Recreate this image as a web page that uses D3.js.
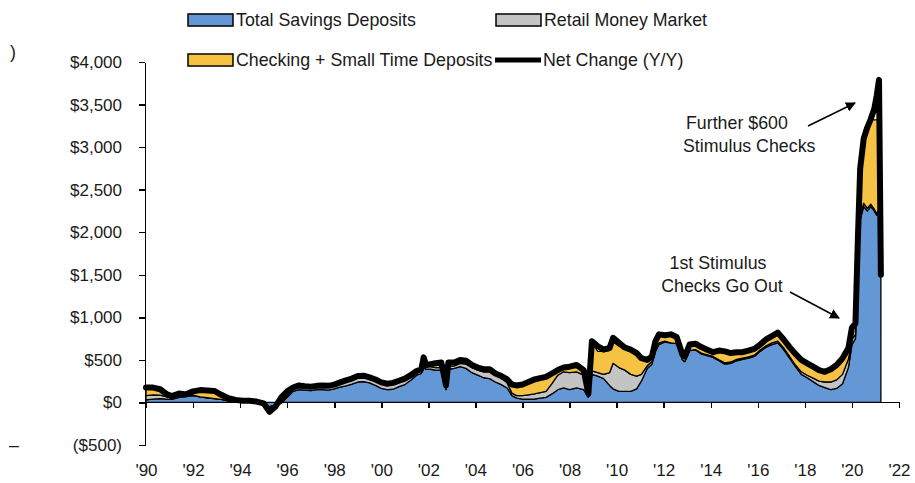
<!DOCTYPE html>
<html>
<meta charset="utf-8">
<style>
  body { margin: 0; background: #fff; }
  svg { display: block; font-family: "Liberation Sans", Arial, sans-serif; }
  .axis path, .axis line { stroke: #000; stroke-width: 1.5px; shape-rendering: crispEdges; }
  .axis text { font-size: 17px; fill: #1a1a1a; font-family: "Liberation Sans", Arial, sans-serif; }
  .label { font-size: 17.8px; fill: #1a1a1a; }
</style>
<body>
<svg width="915" height="483"></svg>
<script src="https://d3js.org/d3.v7.min.js"></script>
<script>

  // dates (decimal years)
  var years = [1990.0, 1990.3, 1990.6, 1990.9, 1991.1, 1991.4, 1991.7, 1992.0, 1992.3, 1992.6,
    1992.9, 1993.2, 1993.5, 1993.8, 1994.1, 1994.4, 1994.7, 1995.0, 1995.25, 1995.5,
    1995.75, 1996.0, 1996.25, 1996.5, 1996.75, 1997.0, 1997.25, 1997.5, 1997.75, 1998.0,
    1998.25, 1998.5, 1998.75, 1999.0, 1999.25, 1999.5, 1999.75, 2000.0, 2000.25, 2000.5,
    2000.75, 2001.0, 2001.25, 2001.5, 2001.7, 2001.8, 2001.9, 2002.1, 2002.3, 2002.55,
    2002.75, 2002.85, 2003.1, 2003.35, 2003.6, 2003.85, 2004.1, 2004.35, 2004.6, 2004.85,
    2005.1, 2005.35, 2005.55, 2005.75, 2006.0, 2006.25, 2006.5, 2006.75, 2007.0, 2007.25,
    2007.5, 2007.75, 2008.0, 2008.3, 2008.6, 2008.8, 2008.95, 2009.2, 2009.45, 2009.7,
    2009.85, 2010.1, 2010.35, 2010.6, 2010.85, 2011.05, 2011.3, 2011.5, 2011.65, 2011.8,
    2012.05, 2012.3, 2012.55, 2012.8, 2012.9, 2013.1, 2013.35, 2013.6, 2013.85, 2014.1,
    2014.35, 2014.6, 2014.85, 2015.1, 2015.35, 2015.6, 2015.85, 2016.1, 2016.35, 2016.6,
    2016.85, 2017.1, 2017.35, 2017.6, 2017.85, 2018.1, 2018.35, 2018.6, 2018.85, 2019.1,
    2019.35, 2019.6, 2019.85, 2020.0, 2020.15, 2020.25, 2020.35, 2020.5, 2020.65, 2020.8,
    2020.95, 2021.05, 2021.15, 2021.23];

  // Y/Y change, $bn
  var savings = [30, 40, 45, 40, 35, 60, 70, 80, 65, 55,
    45, 35, 20, 15, 10, 15, 5, -10, -50, -30,
    -10, 60, 130, 150, 145, 140, 150, 150, 145, 160,
    180, 195, 215, 240, 245, 230, 200, 165, 150, 155,
    185, 210, 260, 320, 340, 420, 390, 390, 380, 380,
    150, 390, 400, 420, 400, 350, 320, 290, 280, 240,
    210, 170, 80, 50, 40, 40, 40, 50, 60, 100,
    150, 170, 150, 170, 150, 60, 330, 310, 280, 200,
    160, 130, 130, 130, 160, 250, 400, 450, 600, 680,
    710, 700, 690, 500, 480, 610, 620, 570, 550, 530,
    490, 450, 460, 490, 505, 520, 540, 600, 650, 680,
    700, 620, 520, 420, 330, 290, 245, 200, 175, 150,
    165, 220, 410, 680, 750, 1500, 2150, 2300, 2250, 2300,
    2250, 2200, 2250, 1550];

  var moneyMarket = [50, 50, 40, 25, 15, 20, 10, 5, 0, 0,
    0, 0, 0, 0, 0, 0, 0, -5, -30, -10,
    10, 20, 25, 30, 30, 30, 30, 35, 40, 40,
    45, 50, 50, 55, 55, 55, 55, 55, 60, 65,
    60, 60, 50, 40, 40, 50, 30, 30, 30, 30,
    20, 30, 30, 40, 50, 60, 60, 70, 80, 80,
    80, 60, 30, 30, 40, 50, 60, 65, 70, 120,
    170, 190, 200, 190, 170, 20, 40, 40, 50, 150,
    300, 280, 250, 200, 150, 80, 30, 30, 20, 20,
    10, 0, 0, 0, 0, 0, 0, 10, 10, 10,
    10, 15, 15, 15, 15, 15, 15, 15, 15, 20,
    20, 20, 20, 20, 30, 30, 40, 50, 65, 90,
    100, 110, 100, 60, 50, 50, 50, 40, 30, 30,
    20, 20, 20, 20];

  var checking = [95, 85, 70, 30, 25, 25, 15, 45, 80, 85,
    90, 55, 30, 15, 10, 5, 5, 5, -30, -10,
    60, 50, 20, 20, 15, 15, 15, 15, 10, 10,
    10, 15, 15, 15, 15, 10, 15, 15, 10, 10,
    10, 10, 10, 10, 10, 60, 20, 30, 50, 60,
    30, 50, 40, 40, 40, 30, 30, 30, 30, 20,
    20, 40, 100, 120, 130, 150, 170, 170, 170, 120,
    60, 50, 70, 80, 60, 20, 330, 250, 270, 260,
    250, 250, 250, 270, 260, 170, 60, 60, 90, 100,
    70, 90, 70, 50, 50, 60, 70, 70, 60, 50,
    110, 135, 105, 85, 70, 75, 75, 65, 75, 80,
    100, 100, 110, 130, 140, 140, 135, 130, 120, 150,
    175, 190, 130, 140, 130, 350, 550, 760, 950, 1000,
    1050, 1100, 1050, 100];

  var netChange = [175, 175, 155, 95, 75, 105, 95, 130, 145, 140,
    135, 90, 50, 30, 20, 20, 10, -10, -110, -50,
    60, 130, 175, 200, 190, 185, 195, 200, 195, 210,
    235, 260, 280, 310, 315, 295, 270, 235, 220, 230,
    255, 280, 320, 370, 390, 530, 440, 450, 460, 470,
    200, 470, 470, 500, 490, 440, 410, 390, 390, 340,
    310, 270, 210, 200, 210, 240, 270, 285, 300, 340,
    380, 410, 420, 440, 380, 100, 720, 660, 620, 640,
    760, 700, 645, 620, 580, 520, 500, 540, 720, 800,
    790, 800, 770, 560, 540, 680, 690, 650, 620, 590,
    610, 600, 580, 590, 590, 610, 630, 680, 740, 780,
    820, 740, 650, 570, 500, 460, 420, 380, 360, 390,
    440, 520, 640, 880, 930, 1900, 2750, 3100, 3230, 3330,
    3450, 3600, 3790, 1500];

  var yTicks = [-500, 0, 500, 1000, 1500, 2000, 2500, 3000, 3500, 4000];
  var xTicks = d3.range(1990, 2023, 2);

  var seriesNames = ["Total Savings Deposits", "Retail Money Market", "Checking + Small Time Deposits"];
  var colors = ["#6397d6", "#c4c4c4", "#f6c244"];

  var svg = d3.select("svg");

  // scales
  var x = d3.scaleLinear().domain([1990, 2022]).range([146, 899]);
  var y = d3.scaleLinear().domain([-500, 4000]).range([445, 62]);

  // build rows for the stack
  var rows = years.map(function (yr, i) {
    return { year: yr, s0: savings[i], s1: moneyMarket[i], s2: checking[i], net: netChange[i] };
  });

  var stack = d3.stack().keys(["s0", "s1", "s2"]);
  var layers = stack(rows);

  var area = d3.area()
    .x(function (d) { return x(d.data.year); })
    .y0(function (d) { return y(d[0]); })
    .y1(function (d) { return y(d[1]); });

  svg.append("g").selectAll("path")
    .data(layers)
    .enter().append("path")
    .attr("d", area)
    .attr("fill", function (d, i) { return colors[i]; })
    .attr("stroke", "#000")
    .attr("stroke-width", 1.3)
    .attr("stroke-linejoin", "round");

  // net change line
  var line = d3.line()
    .x(function (d) { return x(d.year); })
    .y(function (d) { return y(d.net); });

  svg.append("path")
    .datum(rows)
    .attr("d", line)
    .attr("fill", "none")
    .attr("stroke", "#000")
    .attr("stroke-width", 6)
    .attr("stroke-linejoin", "round")
    .attr("stroke-linecap", "round");

  // axes
  var yAxis = d3.axisLeft(y)
    .tickValues(yTicks)
    .tickSize(6)
    .tickSizeOuter(0)
    .tickPadding(17)
    .tickFormat(function (v) { return v < 0 ? "($" + d3.format(",")(-v) + ")" : "$" + d3.format(",")(v); });

  svg.append("g")
    .attr("class", "axis")
    .attr("transform", "translate(" + 145 + ",0)")
    .call(yAxis);

  var xAxis = d3.axisBottom(x)
    .tickValues(xTicks)
    .tickSize(6)
    .tickSizeOuter(0)
    .tickPadding(55)
    .tickFormat(function (v) { return "'" + String(v).slice(2); });

  svg.append("g")
    .attr("class", "axis")
    .attr("transform", "translate(0," + y(0) + ")")
    .call(xAxis)
    .select(".domain").attr("d", "M145,0H" + x(2022));

  // legend
  var legend = [
    { name: seriesNames[0], color: colors[0], x: 188, y: 20, type: "rect" },
    { name: seriesNames[1], color: colors[1], x: 496, y: 20, type: "rect" },
    { name: seriesNames[2], color: colors[2], x: 188, y: 60, type: "rect" },
    { name: "Net Change (Y/Y)", color: "#000", x: 495, y: 60, type: "line" }
  ];

  var lg = svg.selectAll(".legend")
    .data(legend)
    .enter().append("g")
    .attr("class", "legend")
    .attr("transform", function (d) { return "translate(" + d.x + "," + d.y + ")"; });

  lg.filter(function (d) { return d.type === "rect"; })
    .append("rect")
    .attr("x", 0).attr("y", -6)
    .attr("width", 45).attr("height", 12)
    .attr("fill", function (d) { return d.color; })
    .attr("stroke", "#000")
    .attr("stroke-width", 1.5);

  lg.filter(function (d) { return d.type === "line"; })
    .append("line")
    .attr("x1", 0).attr("x2", 46)
    .attr("y1", 0).attr("y2", 0)
    .attr("stroke", "#000")
    .attr("stroke-width", 5);

  lg.append("text")
    .attr("class", "label")
    .attr("x", function (d) { return d.type === "rect" ? 48 : 48; })
    .attr("y", 6)
    .text(function (d) { return d.name; });

  // annotations
  svg.append("defs").append("marker")
    .attr("id", "head")
    .attr("viewBox", "0 0 10 10")
    .attr("refX", 9).attr("refY", 5)
    .attr("markerWidth", 10).attr("markerHeight", 10)
    .attr("markerUnits", "userSpaceOnUse")
    .attr("orient", "auto")
    .append("path")
    .attr("d", "M0,0L10,5L0,10Z")
    .attr("fill", "#000");

  svg.append("text").attr("class", "label").attr("x", 686).attr("y", 129).text("Further $600");
  svg.append("text").attr("class", "label").attr("x", 683).attr("y", 152).text("Stimulus Checks");

  svg.append("text").attr("class", "label").attr("x", 718).attr("y", 269).attr("text-anchor", "middle").text("1st Stimulus");
  svg.append("text").attr("class", "label").attr("x", 722).attr("y", 292).attr("text-anchor", "middle").text("Checks Go Out");

  svg.append("line")
    .attr("x1", 808).attr("y1", 126).attr("x2", 855).attr("y2", 103)
    .attr("stroke", "#000").attr("stroke-width", 1.5)
    .attr("marker-end", "url(#head)");

  svg.append("line")
    .attr("x1", 790).attr("y1", 292).attr("x2", 839).attr("y2", 318)
    .attr("stroke", "#000").attr("stroke-width", 1.5)
    .attr("marker-end", "url(#head)");

  // stray marks at the left edge of the source image
  svg.append("text").attr("class", "label").attr("x", 10).attr("y", 58).text(")");
  svg.append("text").attr("class", "label").attr("x", 9).attr("y", 451).text("\u2013");

</script>
</body>
</html>
